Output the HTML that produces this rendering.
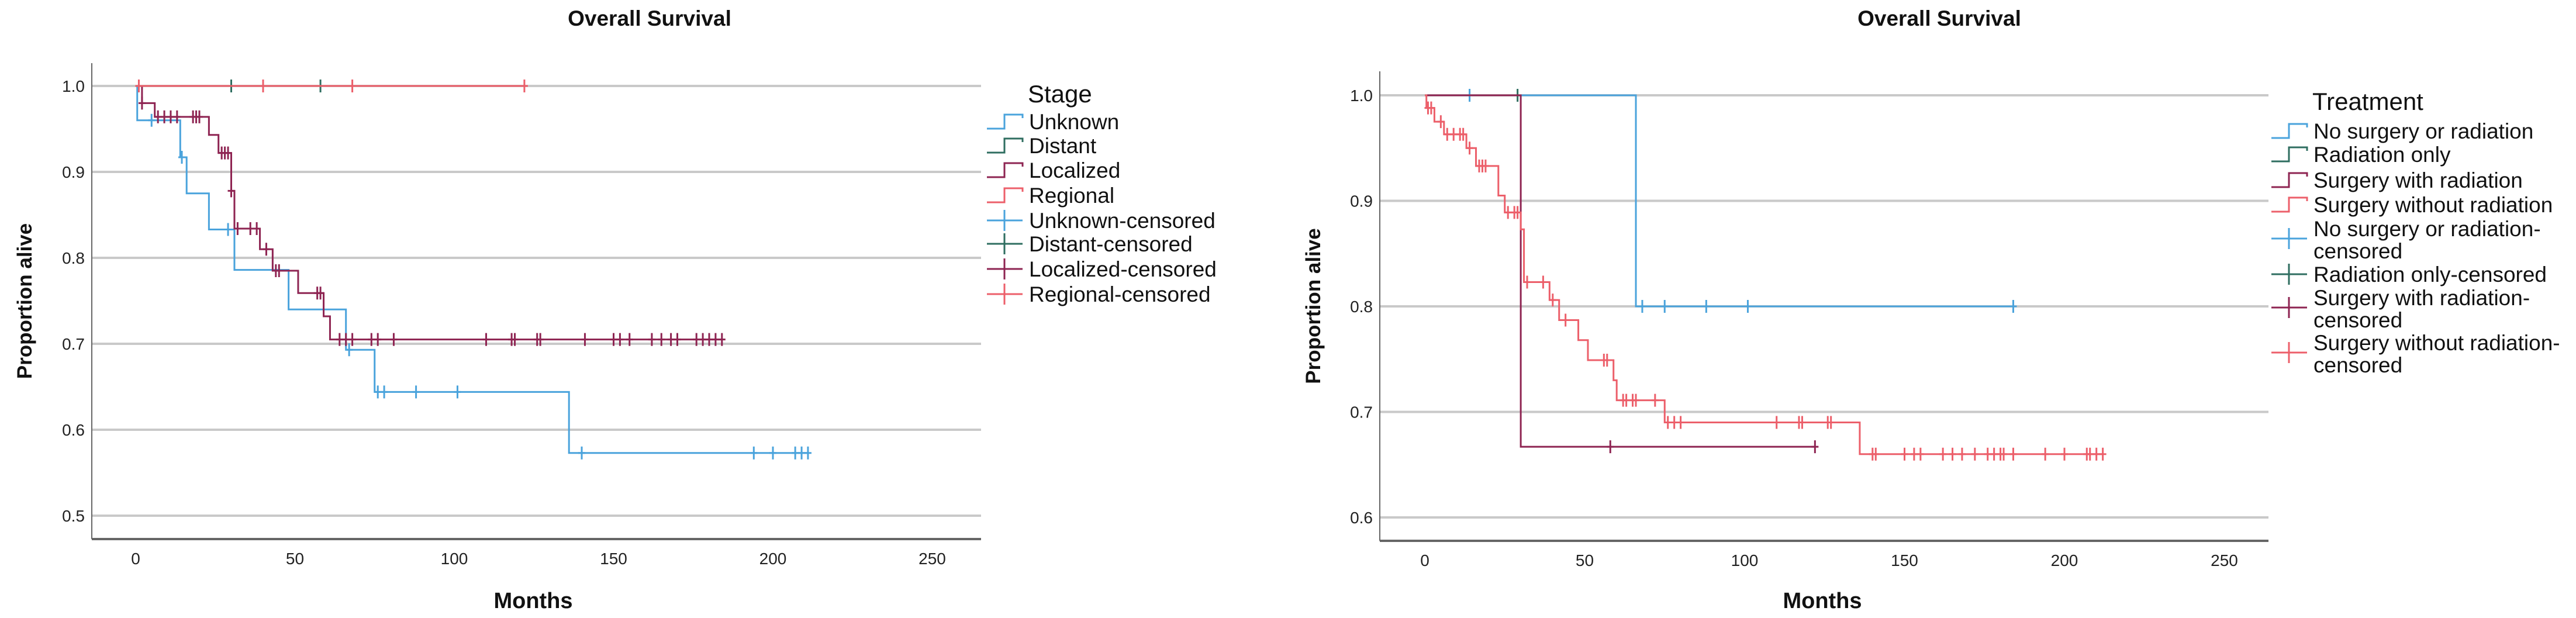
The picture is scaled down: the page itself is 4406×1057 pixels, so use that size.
<!DOCTYPE html>
<html><head><meta charset="utf-8"><style>
html,body{margin:0;padding:0;background:#fff;}
svg{display:block;font-family:"Liberation Sans",sans-serif;}
</style></head><body>
<svg id="root" width="4406" height="1057" viewBox="0 0 4406 1057" xmlns="http://www.w3.org/2000/svg"></svg>
<script>
// ---- Left chart data (Stage) ----
const stageNames = ["Unknown","Distant","Localized","Regional"];
const unknownT = [0, 0.5, 14, 16, 23, 31, 48, 66, 75, 136, 211];
const unknownS = [1.0, 0.96, 0.917, 0.875, 0.833, 0.786, 0.74, 0.693, 0.644, 0.573, 0.573];
const unknownC = [5, 14.5, 29, 67, 76, 78, 88, 101, 140, 194, 200, 207, 209, 211];
const distantT = [0, 58];
const distantS = [1.0, 1.0];
const distantC = [30, 58];
const localizedT = [0, 2, 6, 23, 26, 30, 31, 39, 43, 51, 59, 61, 184];
const localizedS = [1.0, 0.98, 0.964, 0.943, 0.922, 0.878, 0.834, 0.81, 0.785, 0.759, 0.732, 0.705, 0.705];
const localizedC = [2, 7, 9, 11, 13, 18, 19, 20, 27, 28, 29, 30, 32, 36, 38, 41, 44, 45, 57, 58, 64, 66, 68, 74, 76, 81, 110, 118, 119, 126, 127, 141, 150, 152, 155, 162, 165, 168, 170, 176, 178, 180, 182, 184];
const regionalT = [0, 122];
const regionalS = [1.0, 1.0];
const regionalC = [1, 40, 68, 122];
const leftYTicks = [0.5, 0.6, 0.7, 0.8, 0.9, 1.0];
const leftYLabels = ["0.5","0.6","0.7","0.8","0.9","1.0"];

// ---- Right chart data (Treatment) ----
const treatNames = ["No surgery or radiation","Radiation only","Surgery with radiation","Surgery without radiation"];
const noSurgT = [0, 66, 184];
const noSurgS = [1.0, 0.8, 0.8];
const noSurgC = [14, 68, 75, 88, 101, 184];
const radOnlyT = [0, 29];
const radOnlyS = [1.0, 1.0];
const radOnlyC = [29];
const surgRadT = [0, 30, 122];
const surgRadS = [1.0, 0.667, 0.667];
const surgRadC = [58, 122];
const surgNoRadT = [0, 0.5, 3, 6, 13, 16, 23, 25, 30, 31, 39, 42, 48, 51, 59, 60, 75, 136, 212];
const surgNoRadS = [1.0, 0.988, 0.975, 0.963, 0.95, 0.933, 0.905, 0.889, 0.873, 0.823, 0.806, 0.787, 0.768, 0.749, 0.73, 0.711, 0.69, 0.66, 0.66];
const surgNoRadC = [1, 2, 5, 7, 9, 11, 12, 14, 17, 18, 19, 26, 28, 29, 32, 37, 40, 44, 56, 57, 62, 63, 65, 66, 72, 76, 78, 80, 110, 117, 118, 126, 127, 140, 141, 150, 153, 155, 162, 165, 168, 172, 176, 178, 180, 181, 184, 194, 200, 207, 208, 210, 212];
const rightYTicks = [0.6, 0.7, 0.8, 0.9, 1.0];
const rightYLabels = ["0.6","0.7","0.8","0.9","1.0"];

const xTicks = [0, 50, 100, 150, 200, 250];
const xLabels = ["0","50","100","150","200","250"];

const COLORS = ["#4aa3dc","#2f6e60","#8e2452","#ec5f6a"];
const NS = "http://www.w3.org/2000/svg";
const root = document.getElementById('root');

function mk(tag, attrs, parent){
  const e = document.createElementNS(NS, tag);
  for (const k in attrs) e.setAttribute(k, attrs[k]);
  (parent||root).appendChild(e);
  return e;
}

function drawChart(cfg){
  const g = mk('g', {});
  
  
  const X = m => cfg.x0 + m * cfg.xs;
  const Y = v => cfg.y1 + (1 - v) * cfg.ys;
  const t = mk('text', {x: cfg.titleX, y: 44, 'text-anchor':'middle', 'font-size':37, 'font-weight':'bold', fill:'#111'}, g);
  t.textContent = 'Overall Survival';
  
  
  cfg.yTicks.forEach((v,i)=>{
    const l = mk('line', {x1: cfg.axL, x2: cfg.axR, y1: Y(v), y2: Y(v), stroke:'#c9c9c9', 'stroke-width':4}, g);
    
    
    const tx = mk('text', {x: cfg.axL - 12, y: Y(v) + 10, 'text-anchor':'end', 'font-size':28, fill:'#222'}, g);
    tx.textContent = cfg.yLabels[i];
    
    
  });
  const ya = mk('line', {x1: cfg.axL, x2: cfg.axL, y1: cfg.axTop, y2: cfg.axBot, stroke:'#666', 'stroke-width':2}, g);
  
  
  const xa = mk('line', {x1: cfg.axL, x2: cfg.axR, y1: cfg.axBot, y2: cfg.axBot, stroke:'#666', 'stroke-width':4}, g);
  
  
  xTicks.forEach((m,i)=>{
    const tx = mk('text', {x: X(m), y: cfg.axBot + 43, 'text-anchor':'middle', 'font-size':28, fill:'#222'}, g);
    tx.textContent = xLabels[i];
    
    
  });
  const xt = mk('text', {x: X(0) + 680, y: 1040, 'text-anchor':'middle', 'font-size':38, 'font-weight':'bold', fill:'#111'}, g);
  xt.textContent = 'Months';
  
  
  const yt = mk('text', {x: 0, y: 0, 'text-anchor':'middle', 'font-size':35, 'font-weight':'bold', fill:'#111', transform:`translate(${cfg.yTitleX},${(cfg.axTop+cfg.axBot)/2}) rotate(-90)`}, g);
  yt.textContent = 'Proportion alive';
  
  
  cfg.series.forEach((s,si)=>{
    let d = `M${X(s.t[0])},${Y(s.s[0])}`;
    for (let i=1;i<s.t.length;i++){
      d += ` H${X(s.t[i])} V${Y(s.s[i])}`;
    }
    const p = mk('path', {d, fill:'none', stroke: COLORS[si], 'stroke-width':3}, g);
    
    
    s.c.forEach(m=>{
      let v = s.s[0];
      for (let i=0;i<s.t.length;i++){ if (s.t[i] <= m) v = s.s[i]; }
      const cx = X(m), cy = Y(v);
      const c = mk('path', {d:`M${cx},${cy-11} V${cy+11} M${cx-6},${cy} H${cx+6}`, stroke: COLORS[si], 'stroke-width':3, fill:'none'}, g);
      
      
    });
  });
  const lt = mk('text', {x: cfg.legX + 70, y: cfg.legTitleY, 'font-size':42, fill:'#111'}, g);
  lt.textContent = cfg.legTitle;
  
  
  cfg.legend.forEach((e,i)=>{
    const lg = mk('g', {}, g);
    
    
    const sy = e.sy, col = COLORS[i % 4];
    if (i < 4){
      mk('path', {d:`M${cfg.legX},${sy+12} H${cfg.legX+30} V${sy-12} H${cfg.legX+61} V${sy-6}`, stroke: col, 'stroke-width':3, fill:'none'}, lg);
    } else {
      mk('path', {d:`M${cfg.legX},${sy} H${cfg.legX+61} M${cfg.legX+30},${sy-18} V${sy+18}`, stroke: col, 'stroke-width':3, fill:'none'}, lg);
    }
    e.lines.forEach((ln,j)=>{
      const tx = mk('text', {x: cfg.legX + 72, y: e.ty + j*38, 'font-size':37, fill:'#111'}, lg);
      tx.textContent = ln;
    });
  });
}

drawChart({
  name:'stage-chart', x0:232, xs:5.45, y1:147, ys:1470, axL:157, axR:1678, axTop:108, axBot:922,
  titleX:1111, yTitleX:54,
  yTicks:leftYTicks, yLabels:leftYLabels,
  series:[{t:unknownT,s:unknownS,c:unknownC},{t:distantT,s:distantS,c:distantC},{t:localizedT,s:localizedS,c:localizedC},{t:regionalT,s:regionalS,c:regionalC}],
  legX:1688, legTitle:'Stage', legTitleY:175,
  legend:[
    {lines:[stageNames[0]], sy:208, ty:221},
    {lines:[stageNames[1]], sy:249, ty:262},
    {lines:[stageNames[2]], sy:291, ty:304},
    {lines:[stageNames[3]], sy:334, ty:347},
    {lines:['Unknown-censored'], sy:377, ty:390},
    {lines:['Distant-censored'], sy:417, ty:430},
    {lines:['Localized-censored'], sy:460, ty:473},
    {lines:['Regional-censored'], sy:503, ty:516}
  ]
});

drawChart({
  name:'treatment-chart', x0:2437, xs:5.47, y1:163, ys:1805, axL:2360, axR:3880, axTop:122, axBot:925,
  titleX:3317, yTitleX:2258,
  yTicks:rightYTicks, yLabels:rightYLabels,
  series:[{t:noSurgT,s:noSurgS,c:noSurgC},{t:radOnlyT,s:radOnlyS,c:radOnlyC},{t:surgRadT,s:surgRadS,c:surgRadC},{t:surgNoRadT,s:surgNoRadS,c:surgNoRadC}],
  legX:3885, legTitle:'Treatment', legTitleY:188,
  legend:[
    {lines:[treatNames[0]], sy:224, ty:237},
    {lines:[treatNames[1]], sy:264, ty:277},
    {lines:[treatNames[2]], sy:308, ty:321},
    {lines:[treatNames[3]], sy:350, ty:363},
    {lines:['No surgery or radiation-','censored'], sy:408, ty:404},
    {lines:['Radiation only-censored'], sy:469, ty:482},
    {lines:['Surgery with radiation-','censored'], sy:526, ty:522},
    {lines:['Surgery without radiation-','censored'], sy:603, ty:599}
  ]
});
</script>
</body></html>
